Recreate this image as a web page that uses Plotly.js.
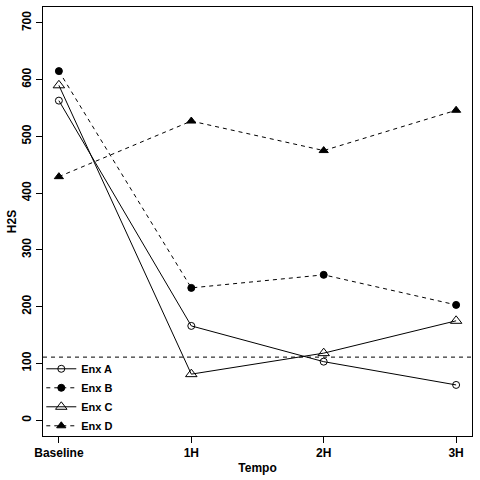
<!DOCTYPE html>
<html>
<head>
<meta charset="utf-8">
<script src="https://cdn.plot.ly/plotly-3.0.1.min.js"></script>
<style>
  html, body { margin: 0; padding: 0; background: #fff; }
  #chart { width: 480px; height: 480px; }
</style>
</head>
<body>
<div id="chart"></div>
<script>
// time points and H2S readings
var tempo = ["Baseline", "1H", "2H", "3H"];
var enxA = [563, 166, 103, 62];
var enxB = [615, 233, 256, 203];
var enxC = [590, 81, 118, 175];
var enxD = [429, 527, 475, 546];
var refLine = 111;

var yTicks = [0, 100, 200, 300, 400, 500, 600, 700];

function serie(name, values, symbol, size, dash){
    return {
        // categories placed by index on a linear axis so the padding matches the original
        x: values.map(function(v, i){ return i; }),
        y: values,
        name: name,
        type: 'scatter',
        mode: 'lines+markers',
        line: {color: '#000', width: 1, dash: dash},
        marker: {
            symbol: symbol,
            size: size,
            color: '#000',
            line: {color: '#000', width: 1}
        }
    };
}

var data = [
    serie("Enx A", enxA, 'circle-open', 7, 'solid'),
    serie("Enx B", enxB, 'circle', 7, '4px,4px'),
    serie("Enx C", enxC, 'triangle-up-open', 10, 'solid'),
    serie("Enx D", enxD, 'triangle-up', 8, '4px,4px')
];

var boldFont = {family: 'Liberation Sans, Arial, sans-serif', size: 12, color: '#000', weight: 'bold'};

var layout = {
    width: 480,
    height: 480,
    margin: {l: 43, r: 8, t: 7, b: 44},
    paper_bgcolor: '#fff',
    plot_bgcolor: '#fff',
    showlegend: true,
    font: boldFont,
    legend: {
        x: -0.004, y: -0.01,
        xanchor: 'left', yanchor: 'bottom',
        bgcolor: 'rgba(0,0,0,0)',
        font: {family: 'Liberation Sans, Arial, sans-serif', size: 11, color: '#000', weight: 'bold'},
        tracegroupgap: 0
    },
    xaxis: {
        type: 'linear',
        range: [-0.12, 3.12],
        tickmode: 'array',
        tickvals: [0, 1, 2, 3],
        ticktext: tempo,
        ticks: 'outside',
        ticklen: 6,
        tickcolor: '#000',
        showgrid: false,
        zeroline: false,
        showline: true,
        mirror: true,
        linecolor: '#000',
        linewidth: 1,
        tickfont: boldFont,
        title: {text: 'Tempo', font: boldFont, standoff: 4}
    },
    yaxis: {
        range: [-28, 728],
        tickmode: 'array',
        tickvals: yTicks,
        tickangle: -90,
        ticks: 'outside',
        ticklen: 6,
        tickcolor: '#000',
        showgrid: false,
        zeroline: false,
        showline: true,
        mirror: true,
        linecolor: '#000',
        linewidth: 1,
        tickfont: boldFont,
        title: {text: 'H2S', font: boldFont, standoff: 1}
    },
    shapes: [{
        type: 'line',
        xref: 'paper', x0: 0, x1: 1,
        yref: 'y', y0: refLine, y1: refLine,
        line: {color: '#000', width: 1, dash: '4px,4px'}
    }]
};

Plotly.newPlot('chart', data, layout, {displayModeBar: false, staticPlot: true});
</script>
</body>
</html>
